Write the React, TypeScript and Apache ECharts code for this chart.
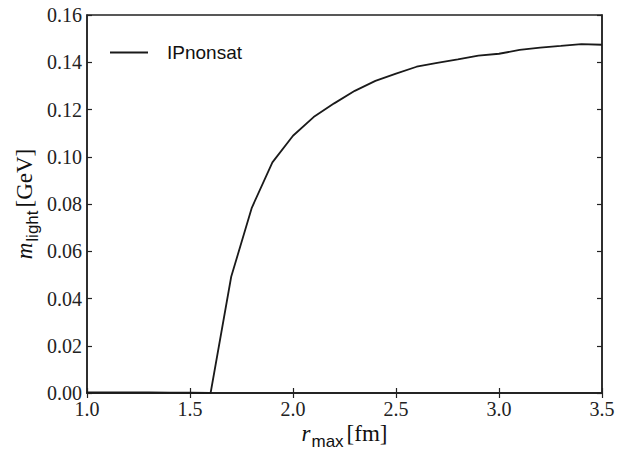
import React, { useEffect, useRef } from "react";
import * as echarts from "echarts";

const rMax = [1.0, 1.1, 1.2, 1.3, 1.4, 1.5, 1.6, 1.7, 1.8, 1.9, 2.0, 2.1, 2.2, 2.3, 2.4, 2.5, 2.6, 2.7, 2.8, 2.9, 3.0, 3.1, 3.2, 3.3, 3.4, 3.5];
const mLight = [0.0003, 0.0003, 0.0003, 0.0003, 0.0002, 0.0001, 0.0, 0.0492, 0.0784, 0.0976, 0.1089, 0.1168, 0.1226, 0.1279, 0.1321, 0.1352, 0.1381, 0.1397, 0.1412, 0.1428, 0.1436, 0.1452, 0.1462, 0.1469, 0.1477, 0.1474];
const seriesName = "IPnonsat";

const serif = "Liberation Serif";
const sans = "Liberation Sans";

export default function App() {
  const ref = useRef<HTMLDivElement>(null);
  useEffect(() => {
    const chart = echarts.init(ref.current!, null, { renderer: "svg" });
    const axisColor = "#222";
    const tickStyle = { show: true, inside: true, length: 5, lineStyle: { color: axisColor, width: 1.2 } };
    const nameRich = {
      it: { fontFamily: serif, fontStyle: "italic", fontSize: 23, color: "#111", verticalAlign: "bottom" },
      sub: { fontFamily: sans, fontSize: 17, color: "#111", verticalAlign: "bottom", padding: [0, 0, -5, 1] },
      n: { fontFamily: serif, fontSize: 23, color: "#111", verticalAlign: "bottom" },
    };
    const labelRich = { t: { fontFamily: serif, fontSize: 20, color: "#222" } };
    chart.setOption({
      animation: false,
      backgroundColor: "#fff",
      textStyle: { fontFamily: serif },
      grid: { left: 87, right: 36, top: 15, bottom: 57, show: true, borderColor: axisColor, borderWidth: 1.5, backgroundColor: "transparent" },
      legend: {
        show: true,
        left: 105,
        top: 38,
        itemWidth: 38,
        itemHeight: 2,
        data: [{ name: seriesName, icon: "path://M0,0H38V2H0Z" }],
        itemStyle: { color: "#1a1a1a" },
        textStyle: { fontFamily: sans, fontSize: 19, color: "#111", padding: [0, 0, 0, 14] },
      },
      xAxis: [
        {
          type: "value",
          min: 1.0,
          max: 3.5,
          interval: 0.5,
          axisLine: { show: true, lineStyle: { color: axisColor, width: 1.5 } },
          axisTick: tickStyle,
          splitLine: { show: false },
          axisLabel: {
            margin: 6,
            fontFamily: serif,
            fontSize: 20,
            color: "#222",
            formatter: (v: number) => "{t|" + v.toFixed(1) + "}",
            rich: labelRich,
          },
          name: "{it|r}{sub|max} {n|[fm]}",
          nameLocation: "middle",
          nameGap: 29,
          nameMoveOverlap: false,
          nameTextStyle: { rich: nameRich },
        },
        {
          type: "value",
          position: "top",
          min: 1.0,
          max: 3.5,
          interval: 0.5,
          axisLine: { show: true, lineStyle: { color: axisColor, width: 1.5 } },
          axisTick: tickStyle,
          axisLabel: { show: false },
          splitLine: { show: false },
        },
      ],
      yAxis: [
        {
          type: "value",
          min: 0,
          max: 0.16,
          interval: 0.02,
          axisLine: { show: true, lineStyle: { color: axisColor, width: 1.5 } },
          axisTick: tickStyle,
          splitLine: { show: false },
          axisLabel: {
            margin: 5,
            fontFamily: serif,
            fontSize: 20,
            color: "#222",
            formatter: (v: number) => "{t|" + v.toFixed(2) + "}",
            rich: labelRich,
          },
          name: "{it|m}{sub|light} {n|[GeV]}",
          nameLocation: "middle",
          nameGap: 51,
          nameMoveOverlap: false,
          nameTextStyle: { rich: nameRich },
        },
        {
          type: "value",
          position: "right",
          min: 0,
          max: 0.16,
          interval: 0.02,
          axisLine: { show: true, lineStyle: { color: axisColor, width: 1.5 } },
          axisTick: tickStyle,
          axisLabel: { show: false },
          splitLine: { show: false },
        },
      ],
      series: [
        {
          name: seriesName,
          type: "line",
          xAxisIndex: 0,
          yAxisIndex: 0,
          data: rMax.map((x, i) => [x, mLight[i]]),
          symbol: "none",
          lineStyle: { color: "#1a1a1a", width: 1.8 },
          itemStyle: { color: "#1a1a1a" },
        },
      ],
    });
    return () => chart.dispose();
  }, []);
  return <div ref={ref} style={{ width: 638, height: 455, position: "absolute", left: 0, top: 0 }} />;
}
